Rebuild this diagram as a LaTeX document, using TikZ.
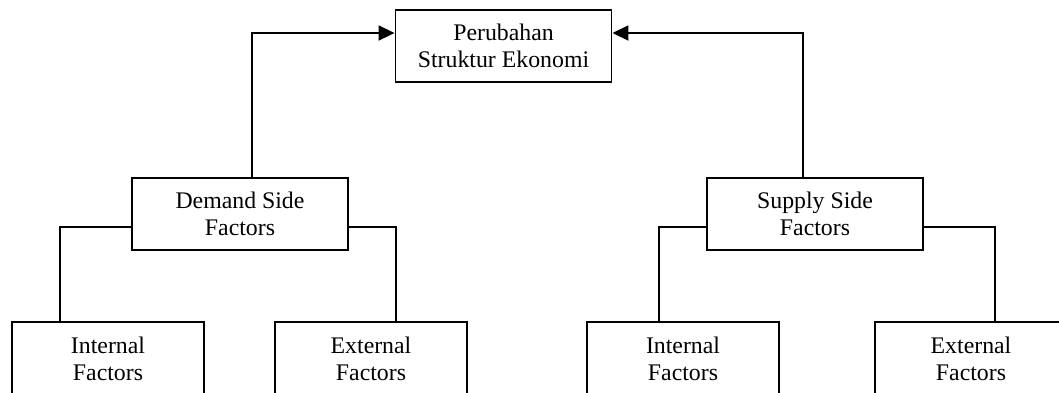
\documentclass[tikz,border=0pt]{standalone}
\usepackage{fontspec}
\setmainfont{Liberation Serif}
\usetikzlibrary{calc,arrows.meta}
\begin{document}
\begin{tikzpicture}[x=1pt,y=-1pt,
  box/.style={draw,line width=1.9pt,minimum width=216pt,minimum height=72pt,align=center,inner sep=0pt,font=\fontsize{23.8}{26.5}\selectfont},
  leaf/.style={box,minimum width=192pt,minimum height=74pt},
  conn/.style={line width=1.9pt},
  arr/.style={conn,-{Triangle[length=16pt,width=15pt]}}]
\useasboundingbox (0,0) rectangle (1059,393);
\clip (0,0) rectangle (1059,393);
\node[box] (top) at (503.5,46) {Perubahan\\Struktur Ekonomi};
\node[box] (dem) at (240,214) {Demand Side\\Factors};
\node[box] (sup) at (815,214) {Supply Side\\Factors};
\node[leaf] (int1) at (108,359) {Internal\\Factors};
\node[leaf] (ext1) at (371,359) {External\\Factors};
\node[leaf] (int2) at (683,359) {Internal\\Factors};
\node[leaf] (ext2) at (971,359) {External\\Factors};
\draw[arr] ($(dem.north)+(12,0)$) |- ($(top.west)+(0,-13)$);
\draw[arr] ($(sup.north)+(-12,0)$) |- ($(top.east)+(0,-13)$);
\draw[conn] ($(dem.west)+(0,13)$) -| ($(int1.north)+(-48,0)$);
\draw[conn] ($(dem.east)+(0,13)$) -| ($(ext1.north)+(25,0)$);
\draw[conn] ($(sup.west)+(0,13)$) -| ($(int2.north)+(-24,0)$);
\draw[conn] ($(sup.east)+(0,13)$) -| ($(ext2.north)+(24,0)$);
\end{tikzpicture}
\end{document}
